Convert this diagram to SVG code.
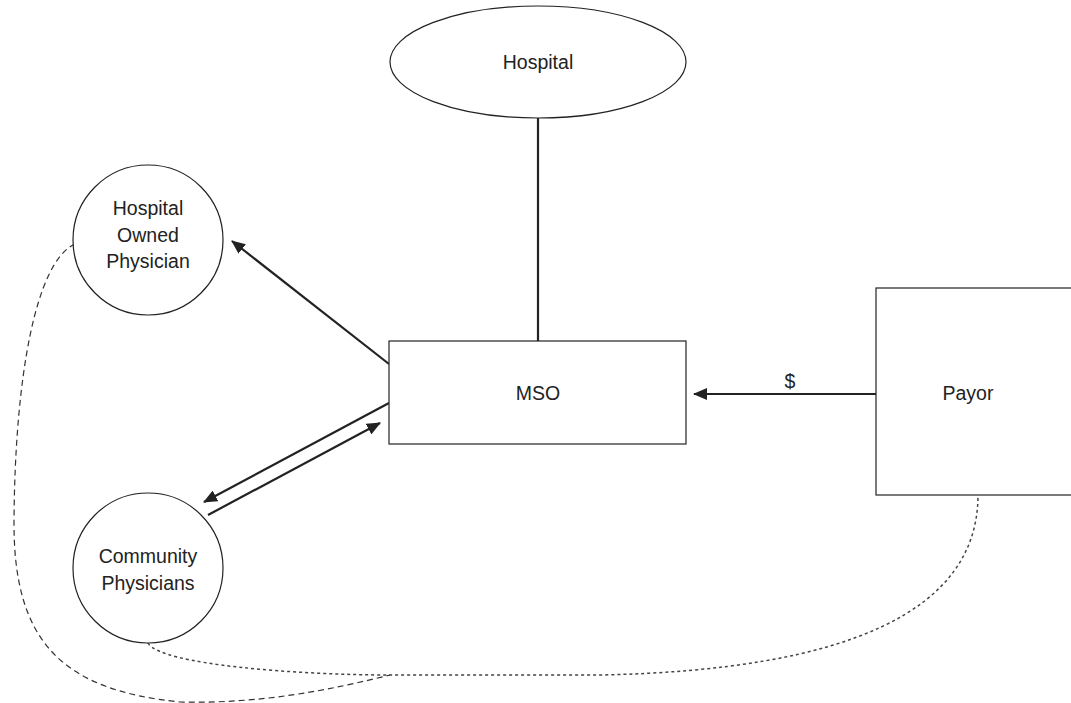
<svg xmlns="http://www.w3.org/2000/svg" width="1071" height="703" viewBox="0 0 1071 703">
<style>
.node{fill:#fff;stroke:#222;stroke-width:1.2}
.lbl{font-family:"Liberation Sans",Arial,sans-serif;font-size:19.5px;fill:#222;text-anchor:middle}
.arr{stroke:#222;stroke-width:2.2;fill:none}
.dash{stroke:#333;stroke-width:1.2;fill:none;stroke-dasharray:6 4}
.dot{stroke:#444;stroke-width:1.5;fill:none;stroke-dasharray:3 3}
</style>
<defs>
<marker id="ah" markerUnits="userSpaceOnUse" markerWidth="14" markerHeight="12" refX="13" refY="6" orient="auto">
<path d="M0,0 L14,6 L0,12 Z" fill="#222"/>
</marker>
</defs>
<rect width="1071" height="703" fill="#fff"/>
<g id="connectors">
<line class="arr" x1="538" y1="118" x2="538" y2="341"/>
<line class="arr" x1="389" y1="364" x2="232" y2="241" marker-end="url(#ah)"/>
<line class="arr" x1="389" y1="403" x2="204" y2="502" marker-end="url(#ah)"/>
<line class="arr" x1="208" y1="515" x2="380" y2="423" marker-end="url(#ah)"/>
<line class="arr" x1="876" y1="394" x2="694" y2="394" marker-end="url(#ah)"/>
<text class="lbl" x="790" y="388">$</text>
<path class="dash" d="M75,244 C35,262 15,380 14,520 C13,640 60,690 180,702 C260,704 330,690 390,675"/>
<path class="dot" d="M148,643 C160,665 300,675 390,675 L600,675 C850,670 978,610 978,495"/>
</g>
<g id="hospital">
<ellipse class="node" cx="538" cy="62" rx="148" ry="56"/>
<text class="lbl" x="538" y="69">Hospital</text>
</g>
<g id="hospital-owned-physician">
<circle class="node" cx="148" cy="240" r="75"/>
<text class="lbl" x="148" y="215">Hospital</text>
<text class="lbl" x="148" y="242">Owned</text>
<text class="lbl" x="148" y="268">Physician</text>
</g>
<g id="community-physicians">
<circle class="node" cx="148" cy="568" r="75"/>
<text class="lbl" x="148" y="563">Community</text>
<text class="lbl" x="148" y="590">Physicians</text>
</g>
<g id="mso">
<rect class="node" x="389" y="341" width="297" height="103"/>
<text class="lbl" x="538" y="400">MSO</text>
</g>
<g id="payor">
<rect class="node" x="876" y="288" width="200" height="207"/>
<text class="lbl" x="968" y="400">Payor</text>
</g>
</svg>
